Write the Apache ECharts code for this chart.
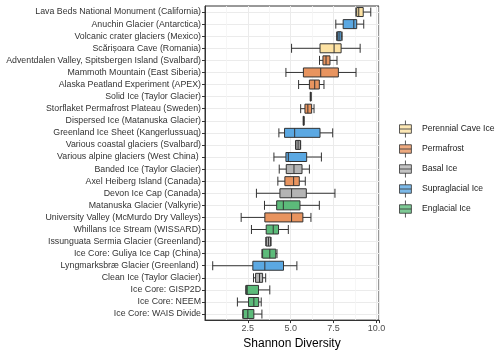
<!DOCTYPE html>
<html>
<head>
<meta charset="utf-8">
<script src="https://cdn.jsdelivr.net/npm/echarts@6/dist/echarts.min.js"></script>
<style>
  html, body { margin: 0; padding: 0; background: #fff; }
  #chart { width: 500px; height: 355px; }
</style>
</head>
<body>
<div id="chart"></div>
<script>
// sites, top to bottom
var sites = [
    'Lava Beds National Monument (California)',
    'Anuchin Glacier (Antarctica)',
    'Volcanic crater glaciers (Mexico)',
    'Scărișoara Cave (Romania)',
    'Adventdalen Valley, Spitsbergen Island (Svalbard)',
    'Mammoth Mountain (East Siberia)',
    'Alaska Peatland Experiment (APEX)',
    'Solid Ice (Taylor Glacier)',
    'Storflaket Permafrost Plateau (Sweden)',
    'Dispersed Ice (Matanuska Glacier)',
    'Greenland Ice Sheet (Kangerlussuaq)',
    'Various coastal glaciers (Svalbard)',
    'Various alpine glaciers (West China) ',
    'Banded Ice (Taylor Glacier)',
    'Axel Heiberg Island (Canada)',
    'Devon Ice Cap (Canada)',
    'Matanuska Glacier (Valkyrie)',
    'University Valley (McMurdo Dry Valleys)',
    'Whillans Ice Stream (WISSARD)',
    'Issunguata Sermia Glacier (Greenland)',
    'Ice Core: Guliya Ice Cap (China)',
    'Lyngmarksbræ Glacier (Greenland) ',
    'Clean Ice (Taylor Glacier)',
    'Ice Core: GISP2D',
    'Ice Core: NEEM',
    'Ice Core: WAIS Divide'
];

// index into typeNames for each site
var siteType = [0, 3, 3, 0, 1, 1, 1, 2, 1, 2, 3, 2, 3, 2, 1, 2, 4, 1, 4, 2, 4, 3, 2, 4, 4, 4];

// Shannon diversity five-number summaries
var lowWhisker = [8.80, 7.63, 7.68, 5.05, 6.68, 4.72, 5.46, 6.14, 5.58, 5.73, 4.31, 5.28, 4.02, 4.33, 4.25, 3.00, 3.47, 2.11, 2.71, 3.55, 3.32, 0.45, 2.83, 2.38, 1.89, 2.20];
var q1 =         [8.85, 8.06, 7.72, 6.71, 6.88, 5.74, 6.09, 6.15, 5.83, 5.74, 4.64, 5.30, 4.72, 4.74, 4.66, 4.37, 4.18, 3.49, 3.57, 3.57, 3.36, 2.79, 2.95, 2.40, 2.54, 2.23];
var median =     [8.97, 8.68, 7.82, 7.53, 7.06, 6.75, 6.40, 6.16, 6.00, 5.75, 5.23, 5.43, 4.86, 5.19, 5.17, 5.05, 4.57, 5.05, 3.98, 3.70, 3.78, 3.49, 3.18, 2.46, 2.85, 2.50];
var q3 =         [9.23, 8.85, 7.95, 7.94, 7.29, 7.78, 6.67, 6.18, 6.22, 5.77, 6.71, 5.56, 5.93, 5.66, 5.50, 5.91, 5.54, 5.71, 4.29, 3.83, 4.13, 4.58, 3.36, 3.12, 3.13, 2.85];
var highWhisker =[9.67, 9.26, 8.00, 9.05, 7.70, 8.81, 6.94, 6.19, 6.36, 5.78, 7.45, 5.58, 6.79, 6.09, 5.85, 7.58, 6.67, 6.18, 4.86, 3.85, 4.20, 5.36, 3.54, 3.78, 3.28, 3.32];

var typeNames = ['Perennial Cave Ice', 'Permafrost', 'Basal Ice', 'Supraglacial Ice', 'Englacial Ice'];
var typeColors = ['#FDE2A3', '#E8945F', '#B4B4B4', '#5BA8E2', '#5CBB7A'];

var xMin = 0;
var xMax = 10.15;
var xStep = 2.5;

var boxIcon = 'path://M7,0L7,5M0,5L14,5L14,15L0,15ZM0,10L14,10M7,15L7,20';

var chart = echarts.init(document.getElementById('chart'));

var boxData = sites.map(function(s, i) {
    return {
        value: [lowWhisker[i], q1[i], median[i], q3[i], highWhisker[i]],
        itemStyle: { color: typeColors[siteType[i]] }
    };
});

var series = [{
    name: 'sites',
    type: 'boxplot',
    data: boxData,
    boxWidth: [9, 9],
    itemStyle: {
        borderColor: '#333333',
        borderWidth: 1
    },
    emphasis: { disabled: true }
}];

// empty series only to get the legend entries
typeNames.forEach(function(t, k) {
    series.push({
        name: t,
        type: 'scatter',
        data: [],
        itemStyle: { color: typeColors[k] }
    });
});

var option = {
    animation: false,
    textStyle: { fontFamily: 'Liberation Sans, Arial, sans-serif' },
    grid: {
        left: 205,
        right: 121,
        top: 6,
        bottom: 34,
        show: true,
        borderColor: '#333333',
        borderWidth: 1,
        backgroundColor: '#ffffff'
    },
    legend: {
        orient: 'vertical',
        left: 394,
        top: 115,
        itemWidth: 13,
        itemHeight: 17,
        itemGap: 2,
        selectedMode: false,
        data: typeNames.map(function(t, k) {
            return {
                name: t,
                icon: boxIcon,
                itemStyle: { color: typeColors[k], borderColor: '#333333', borderWidth: 1 }
            };
        }),
        textStyle: { fontSize: 8.6, color: '#1a1a1a', padding: [0, 0, 0, 5] }
    },
    xAxis: {
        type: 'value',
        min: xMin,
        max: xMax,
        interval: xStep,
        name: 'Shannon Diversity',
        nameLocation: 'middle',
        nameGap: 15,
        nameTextStyle: { fontSize: 12, color: '#000000' },
        axisLine: { show: true, lineStyle: { color: '#333333', width: 1 } },
        axisTick: { show: true, length: 3, lineStyle: { color: '#333333' } },
        axisLabel: {
            fontSize: 9,
            color: '#4d4d4d',
            margin: 4,
            showMinLabel: false,
            formatter: function(v) {
                if (v <= 0) return '';
                var r = v / xStep;
                if (Math.abs(r - Math.round(r)) > 1e-6) return '';
                return v.toFixed(1);
            }
        },
        splitLine: { show: true, lineStyle: { color: '#ebebeb', width: 1 } },
        minorTick: { show: false, splitNumber: 2 },
        minorSplitLine: { show: true, lineStyle: { color: '#f4f4f4', width: 0.8 } }
    },
    yAxis: {
        type: 'category',
        data: sites,
        inverse: true,
        axisLine: { show: true, lineStyle: { color: '#333333', width: 1 } },
        axisTick: { show: true, alignWithLabel: true, length: 3, lineStyle: { color: '#333333' } },
        axisLabel: { fontSize: 8.8, color: '#333333', margin: 4, interval: 0 },
        splitLine: { show: true, alignWithLabel: true, lineStyle: { color: '#ebebeb', width: 1 } }
    },
    series: series
};

chart.setOption(option);
</script>
</body>
</html>
